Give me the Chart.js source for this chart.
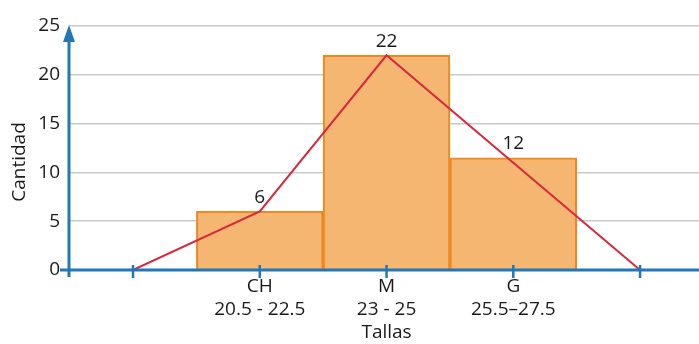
<!DOCTYPE html>
<html>
<head>
<meta charset="utf-8">
<script src="https://cdn.jsdelivr.net/npm/chart.js@4.4.1/dist/chart.umd.min.js"></script>
<style>
  html, body { margin: 0; padding: 0; background: #fff; }
  #wrap { width: 699px; height: 344px; }
</style>
</head>
<body>
<div id="wrap"><canvas id="tallasChart"></canvas></div>
<script>
// tallas (x positions 1..3), frecuencias
const barX = [1, 2, 3];
const barValues = [6, 22, 11.5];
const barLabels = ['6', '22', '12'];
const tickLabels = ['', ['CH', '20.5 - 22.5'], ['M', '23 - 25'], ['G', '25.5\u201327.5'], ''];
const polyX = [0, 1, 2, 3, 4];
const polyValues = [0, 6, 22, 11, 0];
const yTicks = [0, 5, 10, 15, 20, 25];

const BLUE = '#2277b5';
const TEXT = '#1a1a1a';
const FONT = "'Open Sans', 'Noto Sans', sans-serif";

const axesPlugin = {
    id: 'axesPlugin',
    afterDatasetsDraw(chart) {
        const c = chart.ctx;
        const xs = chart.scales.x, ys = chart.scales.y;
        const y0 = ys.getPixelForValue(0);
        const left = xs.left;
        c.save();
        c.strokeStyle = BLUE;
        c.lineWidth = 3;
        // x axis
        c.beginPath();
        c.moveTo(left - 9, y0);
        c.lineTo(chart.width, y0);
        c.stroke();
        // y axis
        c.beginPath();
        c.moveTo(left, y0 + 7);
        c.lineTo(left, ys.top + 12);
        c.stroke();
        // arrow
        c.fillStyle = BLUE;
        c.beginPath();
        c.moveTo(left, ys.top - 1);
        c.lineTo(left - 6, ys.top + 16);
        c.lineTo(left + 6, ys.top + 16);
        c.closePath();
        c.fill();
        // tick marks
        c.lineWidth = 2.5;
        polyX.forEach(v => {
            const px = xs.getPixelForValue(v);
            c.beginPath();
            c.moveTo(px, y0 - 5);
            c.lineTo(px, y0 + 8);
            c.stroke();
        });
        // value labels
        c.fillStyle = TEXT;
        c.font = '19px ' + FONT;
        c.textAlign = 'center';
        c.textBaseline = 'middle';
        barX.forEach((v, i) => {
            c.fillText(barLabels[i], xs.getPixelForValue(v), ys.getPixelForValue(barValues[i]) - 14);
        });
        // axis titles
        c.font = '19px ' + FONT;
        c.fillText('Tallas', xs.getPixelForValue(2), 333);
        c.translate(20, 162);
        c.rotate(-Math.PI / 2);
        c.fillText('Cantidad', 0, 0);
        c.restore();
    }
};

new Chart(document.getElementById('tallasChart'), {
    data: {
        datasets: [{
            type: 'line',
            data: polyX.map((x, i) => ({ x: x, y: polyValues[i] })),
            borderColor: '#d8283f',
            borderWidth: 2,
            pointRadius: 0,
            tension: 0,
            fill: false,
            order: 0
        }, {
            type: 'bar',
            data: barX.map((x, i) => ({ x: x, y: barValues[i] })),
            backgroundColor: '#f5b672',
            borderColor: '#f0871e',
            borderWidth: 2,
            barPercentage: 1,
            categoryPercentage: 1,
            order: 1
        }]
    },
    options: {
        responsive: true,
        maintainAspectRatio: false,
        animation: false,
        layout: { padding: { top: 26, right: 0, left: 0, bottom: 0 } },
        plugins: { legend: { display: false }, tooltip: { enabled: false } },
        scales: {
            x: {
                type: 'linear',
                offset: false,
                min: -0.505,
                max: 4.465,
                afterBuildTicks: s => { s.ticks = polyX.map(v => ({ value: v })); },
                afterFit: s => { s.height = 74; },
                grid: { display: false, drawTicks: false },
                border: { display: false },
                ticks: {
                    padding: 5,
                    color: TEXT,
                    font: { family: FONT, size: 19, lineHeight: 1.22 },
                    maxRotation: 0,
                    autoSkip: false,
                    callback: (v) => tickLabels[v] ?? ''
                }
            },
            y: {
                min: 0,
                max: 25,
                afterBuildTicks: s => { s.ticks = yTicks.map(v => ({ value: v })); },
                afterFit: s => { s.width = 69; },
                grid: { color: '#c9c9c9', lineWidth: 1.5, drawTicks: false },
                border: { display: false },
                ticks: {
                    padding: 9,
                    color: TEXT,
                    font: { family: FONT, size: 19 }
                }
            }
        }
    },
    plugins: [axesPlugin]
});
</script>
</body>
</html>
